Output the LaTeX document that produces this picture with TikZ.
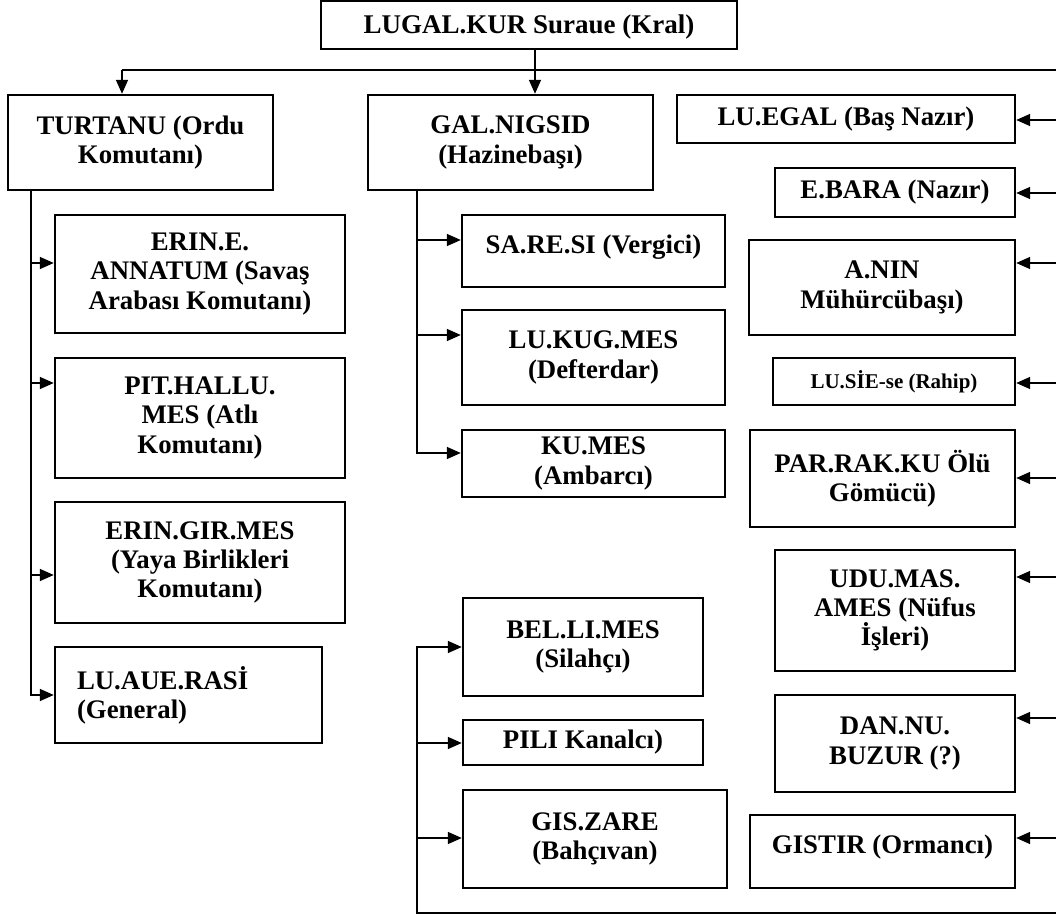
\documentclass[tikz,border=0pt]{standalone}
\usepackage{fontspec}
\setmainfont{Liberation Serif}
\usetikzlibrary{arrows.meta}

\begin{document}
\begin{tikzpicture}[x=.5pt,y=-.5pt,
    box/.style={draw,line width=1.2pt,inner sep=0pt,align=center,
                font=\bfseries\fontsize{13.4}{14.6}\selectfont},
    link/.style={line width=.8pt},
    arr/.style={link,-{Triangle[length=7pt,width=6pt]}}]
\useasboundingbox (0,0) rectangle (1056,915);

% king
\node [box,minimum width=208pt,minimum height=24pt,
       font=\bfseries\fontsize{13.5}{15}\selectfont,text depth=1pt]
      (kral)    at (529  , 25  ) {LUGAL.KUR Suraue (Kral)};

% army
\node [box,minimum width=132.5pt,minimum height=47.5pt]
      (turtanu) at (140.5,142.5) {TURTANU (Ordu\\Komutanı)};
\node [box,minimum width=145pt,minimum height=59pt]
      (erine)   at (200  ,274  ) {ERIN.E.\\ANNATUM (Savaş\\Arabası Komutanı)};
\node [box,minimum width=145pt,minimum height=60pt]
      (pit)     at (200  ,418  ) {PIT.HALLU.\\MES (Atlı\\Komutanı)};
\node [box,minimum width=145pt,minimum height=60.5pt]
      (eringir) at (200  ,562.5) {ERIN.GIR.MES\\(Yaya Birlikleri\\Komutanı)};
\node [box,minimum width=133.5pt,minimum height=48pt,align=left,text width=111.5pt]
      (luaue)   at (188.5,695  ) {LU.AUE.RASİ\\(General)};

% treasury
\node [box,minimum width=142.5pt,minimum height=47.5pt]
      (gal)     at (510.5,142.5) {GAL.NIGSID\\(Hazinebaşı)};
\node [box,minimum width=131.5pt,minimum height=36pt,text depth=7pt]
      (sare)    at (593.5,251  ) {SA.RE.SI (Vergici)};
\node [box,minimum width=131.5pt,minimum height=47.5pt]
      (lukug)   at (593.5,357.5) {LU.KUG.MES\\(Defterdar)};
\node [box,minimum width=131.5pt,minimum height=33.5pt]
      (kumes)   at (593.5,463.5) {KU.MES\\(Ambarcı)};

% lower group
\node [box,minimum width=120pt,minimum height=49pt]
      (belli)   at (583  ,647  ) {BEL.LI.MES\\(Silahçı)};
\node [box,minimum width=120pt,minimum height=22.5pt]
      (pili)    at (583  ,742.5) {PILI Kanalcı)};
\node [box,minimum width=132pt,minimum height=49pt]
      (giszare) at (595  ,839  ) {GIS.ZARE\\(Bahçıvan)};

% right column
\node [box,minimum width=169pt,minimum height=24pt]
      (luegal)  at (846  ,119  ) {LU.EGAL (Baş Nazır)};
\node [box,minimum width=120pt,minimum height=24.5pt]
      (ebara)   at (895  ,192.5) {E.BARA (Nazır)};
\node [box,minimum width=133pt,minimum height=47.5pt]
      (anin)    at (882  ,287.5) {A.NIN\\Mühürcübaşı)};
\node [box,minimum width=121pt,minimum height=23.5pt,
       font=\bfseries\fontsize{10.5}{12}\selectfont]
      (lusie)   at (894  ,381.5) {LU.SİE-se (Rahip)};
\node [box,minimum width=132.5pt,minimum height=48.5pt]
      (parrak)  at (882.5,478.5) {PAR.RAK.KU Ölü\\Gömücü)};
\node [box,minimum width=120pt,minimum height=60.5pt]
      (udu)     at (895  ,610.5) {UDU.MAS.\\AMES (Nüfus\\İşleri)};
\node [box,minimum width=120pt,minimum height=48.5pt]
      (dannu)   at (895  ,743.5) {DAN.NU.\\BUZUR (?)};
\node [box,minimum width=132.5pt,minimum height=36.5pt,text depth=7pt]
      (gistir)  at (882.5,851.5) {GISTIR (Ormancı)};

% spines
\coordinate (busL) at (122 ,70);
\coordinate (rsp)  at (1056, 0);
\coordinate (lsp)  at (31  , 0);
\coordinate (msp)  at (417 , 0);
\coordinate (drop) at ([xshift=3pt]kral.south);

\draw[link] (busL) -- (rsp |- busL);
\draw[arr]  (busL) -- (turtanu.north -| busL);
\draw[arr]  (drop) -- (gal.north -| drop);

\draw[arr] (turtanu.south -| lsp) |- (luaue.west |- 0,695);
\foreach \n/\y in {erine/263,pit/383,eringir/575}
  \draw[arr] (lsp |- 0,\y) -- (\n.west |- 0,\y);

\draw[arr] (gal.south -| msp) |- (kumes.west |- 0,453);
\foreach \n/\y in {sare/240,lukug/335}
  \draw[arr] (msp |- 0,\y) -- (\n.west |- 0,\y);

\draw[arr] (rsp |- 0,913) -| (msp |- 0,647) -- (belli.west |- 0,647);
\foreach \n/\y in {pili/743,giszare/838}
  \draw[arr] (msp |- 0,\y) -- (\n.west |- 0,\y);

\foreach \n/\y in {luegal/120,ebara/193,anin/263,lusie/383,
                   parrak/478,udu/577,dannu/718,gistir/838}
  \draw[arr] (rsp |- 0,\y) -- (\n.east |- 0,\y);
\end{tikzpicture}
\end{document}
